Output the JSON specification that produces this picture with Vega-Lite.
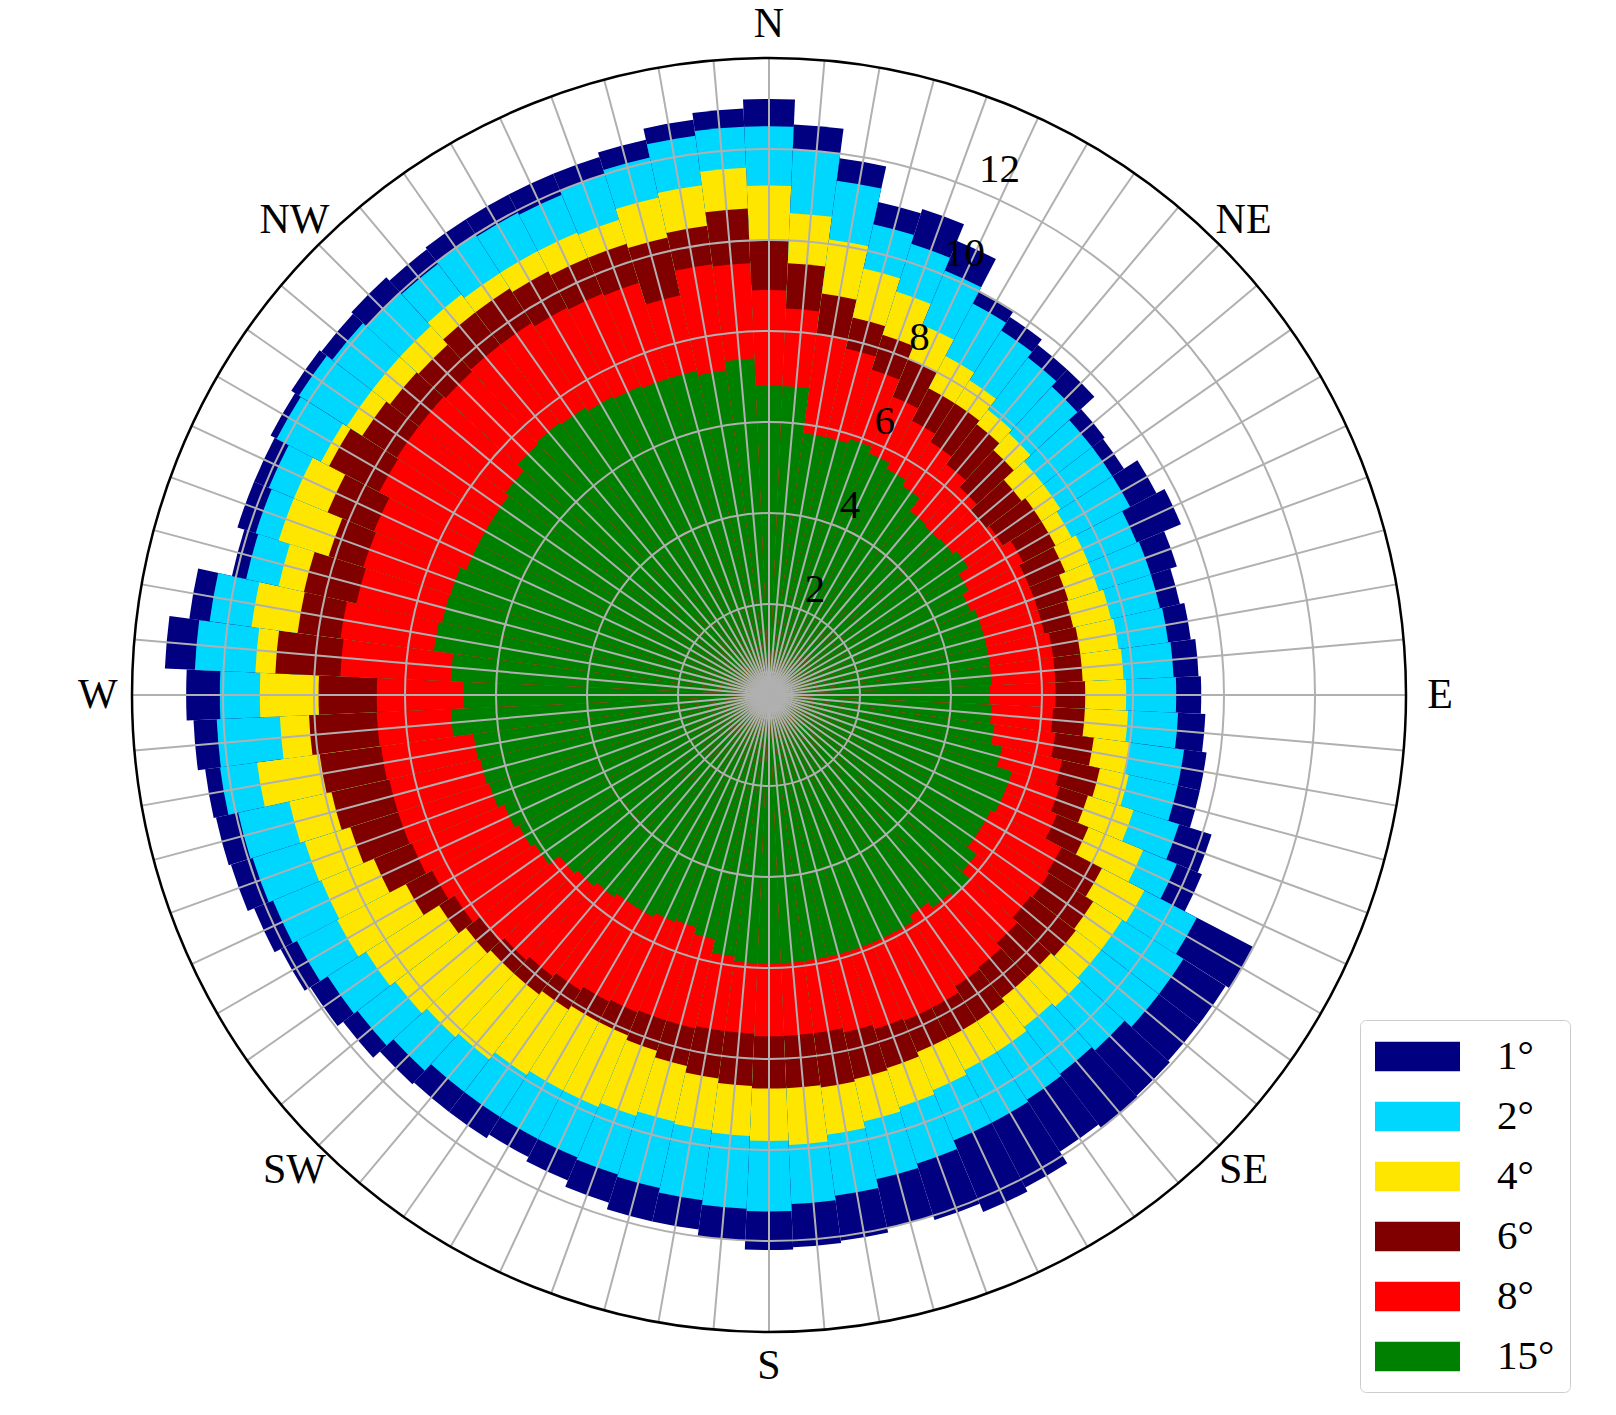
{
  "$schema": "https://vega.github.io/schema/vega-lite/v6.json",
  "width": 1538,
  "height": 1390,
  "autosize": "none",
  "padding": {"left": 0, "top": 0, "right": 78, "bottom": 25},
  "background": "white",
  "config": {"view": {"stroke": null}},
  "datasets": {
    "bins": [
      {"dir": 0, "d1": 13.1, "d2": 12.5, "d4": 11.2, "d6": 10.0, "d8": 8.9, "d15": 6.8},
      {"dir": 5, "d1": 12.55, "d2": 12.0, "d4": 10.6, "d6": 9.5, "d8": 8.5, "d15": 6.8},
      {"dir": 10, "d1": 11.9, "d2": 11.4, "d4": 10.1, "d6": 8.9, "d8": 8.0, "d15": 5.8},
      {"dir": 15, "d1": 11.1, "d2": 10.6, "d4": 9.6, "d6": 8.5, "d8": 7.8, "d15": 5.8},
      {"dir": 20, "d1": 11.2, "d2": 10.4, "d4": 9.3, "d6": 8.3, "d8": 7.5, "d15": 5.9},
      {"dir": 25, "d1": 10.8, "d2": 10.1, "d4": 8.8, "d6": 8.0, "d8": 7.1, "d15": 5.75},
      {"dir": 30, "d1": 10.0, "d2": 9.7, "d4": 8.4, "d6": 7.6, "d8": 6.8, "d15": 5.6},
      {"dir": 35, "d1": 9.85, "d2": 9.5, "d4": 8.2, "d6": 7.6, "d8": 6.6, "d15": 5.45},
      {"dir": 40, "d1": 9.7, "d2": 9.35, "d4": 7.9, "d6": 7.5, "d8": 6.4, "d15": 5.1},
      {"dir": 45, "d1": 9.7, "d2": 9.2, "d4": 7.8, "d6": 7.3, "d8": 6.2, "d15": 5.05},
      {"dir": 50, "d1": 9.3, "d2": 8.95, "d4": 7.6, "d6": 7.0, "d8": 6.0, "d15": 5.1},
      {"dir": 55, "d1": 9.25, "d2": 8.95, "d4": 7.6, "d6": 7.1, "d8": 6.1, "d15": 5.2},
      {"dir": 60, "d1": 9.6, "d2": 8.95, "d4": 7.5, "d6": 7.1, "d8": 6.3, "d15": 4.95},
      {"dir": 65, "d1": 9.8, "d2": 8.75, "d4": 7.6, "d6": 7.05, "d8": 6.2, "d15": 4.8},
      {"dir": 70, "d1": 9.4, "d2": 8.8, "d4": 7.6, "d6": 6.9, "d8": 6.2, "d15": 4.9},
      {"dir": 75, "d1": 9.25, "d2": 8.8, "d4": 7.7, "d6": 6.85, "d8": 6.2, "d15": 4.9},
      {"dir": 80, "d1": 9.35, "d2": 8.85, "d4": 7.75, "d6": 6.9, "d8": 6.3, "d15": 4.9},
      {"dir": 85, "d1": 9.45, "d2": 8.9, "d4": 7.8, "d6": 6.9, "d8": 6.3, "d15": 4.9},
      {"dir": 90, "d1": 9.5, "d2": 8.95, "d4": 7.85, "d6": 6.95, "d8": 6.3, "d15": 4.85},
      {"dir": 95, "d1": 9.6, "d2": 9.0, "d4": 7.9, "d6": 6.95, "d8": 6.25, "d15": 4.9},
      {"dir": 100, "d1": 9.7, "d2": 9.2, "d4": 8.0, "d6": 7.2, "d8": 6.35, "d15": 5.0},
      {"dir": 105, "d1": 9.7, "d2": 9.2, "d4": 8.1, "d6": 7.45, "d8": 6.6, "d15": 5.25},
      {"dir": 110, "d1": 10.2, "d2": 9.45, "d4": 8.4, "d6": 7.35, "d8": 6.7, "d15": 5.6},
      {"dir": 115, "d1": 10.3, "d2": 9.7, "d4": 8.9, "d6": 7.6, "d8": 6.85, "d15": 5.6},
      {"dir": 120, "d1": 12.0, "d2": 10.6, "d4": 9.3, "d6": 8.25, "d8": 7.25, "d15": 5.5},
      {"dir": 125, "d1": 11.9, "d2": 10.8, "d4": 9.2, "d6": 8.45, "d8": 7.3, "d15": 5.5},
      {"dir": 130, "d1": 11.9, "d2": 10.8, "d4": 9.2, "d6": 8.5, "d8": 7.25, "d15": 5.75},
      {"dir": 135, "d1": 11.95, "d2": 10.6, "d4": 9.3, "d6": 8.4, "d8": 7.4, "d15": 6.0},
      {"dir": 140, "d1": 12.0, "d2": 10.5, "d4": 9.2, "d6": 8.4, "d8": 7.55, "d15": 5.9},
      {"dir": 145, "d1": 11.9, "d2": 10.55, "d4": 9.3, "d6": 8.5, "d8": 7.6, "d15": 5.75},
      {"dir": 150, "d1": 12.2, "d2": 10.6, "d4": 9.3, "d6": 8.5, "d8": 7.75, "d15": 5.9},
      {"dir": 155, "d1": 12.3, "d2": 10.6, "d4": 9.4, "d6": 8.5, "d8": 7.75, "d15": 5.9},
      {"dir": 160, "d1": 12.1, "d2": 10.8, "d4": 9.5, "d6": 8.6, "d8": 7.7, "d15": 5.9},
      {"dir": 165, "d1": 12.0, "d2": 10.9, "d4": 9.6, "d6": 8.65, "d8": 7.6, "d15": 5.9},
      {"dir": 170, "d1": 12.1, "d2": 11.1, "d4": 9.75, "d6": 8.7, "d8": 7.5, "d15": 5.9},
      {"dir": 175, "d1": 12.15, "d2": 11.2, "d4": 9.9, "d6": 8.65, "d8": 7.5, "d15": 5.9},
      {"dir": 180, "d1": 12.2, "d2": 11.35, "d4": 9.8, "d6": 8.65, "d8": 7.5, "d15": 5.9},
      {"dir": 185, "d1": 12.0, "d2": 11.3, "d4": 9.7, "d6": 8.6, "d8": 7.45, "d15": 5.9},
      {"dir": 190, "d1": 11.85, "d2": 11.2, "d4": 9.65, "d6": 8.5, "d8": 7.45, "d15": 5.8},
      {"dir": 195, "d1": 11.85, "d2": 11.1, "d4": 9.6, "d6": 8.35, "d8": 7.5, "d15": 5.5},
      {"dir": 200, "d1": 11.7, "d2": 11.05, "d4": 9.7, "d6": 8.2, "d8": 7.5, "d15": 5.35},
      {"dir": 205, "d1": 11.55, "d2": 11.0, "d4": 9.8, "d6": 8.1, "d8": 7.55, "d15": 5.4},
      {"dir": 210, "d1": 11.45, "d2": 11.0, "d4": 9.8, "d6": 8.1, "d8": 7.6, "d15": 5.5},
      {"dir": 215, "d1": 11.55, "d2": 11.0, "d4": 9.9, "d6": 8.2, "d8": 7.7, "d15": 5.5},
      {"dir": 220, "d1": 11.55, "d2": 11.0, "d4": 10.1, "d6": 8.3, "d8": 7.8, "d15": 5.6},
      {"dir": 225, "d1": 11.6, "d2": 11.2, "d4": 10.2, "d6": 8.3, "d8": 7.9, "d15": 5.7},
      {"dir": 230, "d1": 11.8, "d2": 11.4, "d4": 10.35, "d6": 8.4, "d8": 8.0, "d15": 5.8},
      {"dir": 235, "d1": 11.95, "d2": 11.5, "d4": 10.5, "d6": 8.6, "d8": 8.2, "d15": 6.1},
      {"dir": 240, "d1": 12.1, "d2": 11.7, "d4": 10.7, "d6": 9.0, "d8": 8.35, "d15": 6.2},
      {"dir": 245, "d1": 12.25, "d2": 11.8, "d4": 10.65, "d6": 9.4, "d8": 8.5, "d15": 6.3},
      {"dir": 250, "d1": 12.4, "d2": 11.9, "d4": 10.7, "d6": 9.65, "d8": 8.55, "d15": 6.45},
      {"dir": 255, "d1": 12.45, "d2": 11.95, "d4": 10.8, "d6": 9.85, "d8": 8.55, "d15": 6.5},
      {"dir": 260, "d1": 12.5, "d2": 12.17, "d4": 11.35, "d6": 9.96, "d8": 8.6, "d15": 6.55},
      {"dir": 265, "d1": 12.66, "d2": 12.15, "d4": 10.76, "d6": 10.12, "d8": 8.63, "d15": 7.0},
      {"dir": 270, "d1": 12.81, "d2": 12.07, "d4": 11.19, "d6": 9.9, "d8": 8.62, "d15": 6.72},
      {"dir": 275, "d1": 13.29, "d2": 12.63, "d4": 11.3, "d6": 10.86, "d8": 9.43, "d15": 7.0},
      {"dir": 280, "d1": 12.85, "d2": 12.4, "d4": 11.47, "d6": 10.45, "d8": 9.5, "d15": 7.43},
      {"dir": 285, "d1": 12.09, "d2": 11.77, "d4": 11.04, "d6": 10.47, "d8": 9.29, "d15": 7.36},
      {"dir": 290, "d1": 12.25, "d2": 11.83, "d4": 11.3, "d6": 10.15, "d8": 9.35, "d15": 7.34},
      {"dir": 295, "d1": 12.25, "d2": 11.9, "d4": 11.3, "d6": 10.5, "d8": 9.4, "d15": 7.2},
      {"dir": 300, "d1": 12.35, "d2": 12.2, "d4": 11.1, "d6": 10.9, "d8": 9.66, "d15": 7.2},
      {"dir": 305, "d1": 12.45, "d2": 12.25, "d4": 11.0, "d6": 10.6, "d8": 9.7, "d15": 7.2},
      {"dir": 310, "d1": 12.4, "d2": 12.1, "d4": 11.0, "d6": 10.5, "d8": 9.7, "d15": 7.3},
      {"dir": 315, "d1": 12.45, "d2": 12.0, "d4": 11.0, "d6": 10.45, "d8": 9.65, "d15": 7.5},
      {"dir": 320, "d1": 12.35, "d2": 11.95, "d4": 11.1, "d6": 10.6, "d8": 9.7, "d15": 7.55},
      {"dir": 325, "d1": 12.4, "d2": 12.0, "d4": 11.0, "d6": 10.6, "d8": 9.7, "d15": 7.5},
      {"dir": 330, "d1": 12.4, "d2": 11.95, "d4": 11.0, "d6": 10.5, "d8": 9.6, "d15": 7.4},
      {"dir": 335, "d1": 12.4, "d2": 11.9, "d4": 11.0, "d6": 10.4, "d8": 9.55, "d15": 7.35},
      {"dir": 340, "d1": 12.4, "d2": 12.0, "d4": 10.95, "d6": 10.4, "d8": 9.5, "d15": 7.3},
      {"dir": 345, "d1": 12.5, "d2": 12.1, "d4": 11.2, "d6": 10.3, "d8": 9.0, "d15": 7.3},
      {"dir": 350, "d1": 12.75, "d2": 12.4, "d4": 11.3, "d6": 10.4, "d8": 9.55, "d15": 7.2},
      {"dir": 355, "d1": 12.9, "d2": 12.5, "d4": 11.6, "d6": 10.7, "d8": 9.5, "d15": 7.4}
    ],
    "rings": [{"r": 2}, {"r": 4}, {"r": 6}, {"r": 8}, {"r": 10}, {"r": 12}],
    "edge": [{"r": 14}],
    "compass": [
      {"dir": 0, "label": "N"}, {"dir": 45, "label": "NE"}, {"dir": 90, "label": "E"},
      {"dir": 135, "label": "SE"}, {"dir": 180, "label": "S"}, {"dir": 225, "label": "SW"},
      {"dir": 270, "label": "W"}, {"dir": 315, "label": "NW"}
    ]
  },
  "layer": [
    {
      "data": {"name": "bins"},
      "transform": [{"fold": ["d1", "d2", "d4", "d6", "d8", "d15"], "as": ["series", "r"]}],
      "mark": {"type": "arc", "thetaOffset": -0.0436332, "theta2Offset": 0.0436332},
      "encoding": {
        "theta": {"field": "dir", "type": "quantitative", "stack": null,
          "scale": {"type": "linear", "domain": [0, 360], "range": [0, 6.283185307179586]}},
        "theta2": {"field": "dir"},
        "radius": {"field": "r", "type": "quantitative", "stack": null,
          "scale": {"type": "linear", "domain": [0, 14], "range": [0, 637], "zero": true, "nice": false}},
        "color": {
          "field": "series", "type": "nominal",
          "scale": {"domain": ["d1", "d2", "d4", "d6", "d8", "d15"],
            "range": ["#000080", "#00D7FF", "#FFE600", "#800000", "#FF0000", "#008000"]},
          "legend": {
            "title": null, "orient": "none", "legendX": 1360, "legendY": 1020,
            "symbolType": "M-2,-0.7L2,-0.7L2,0.7L-2,0.7Z", "symbolSize": 1806,
            "symbolStrokeWidth": 0, "symbolOpacity": 1, "symbolOffset": 21,
            "labelOffset": 58, "labelFont": "Liberation Serif", "labelFontSize": 41,
            "labelColor": "#000000", "labelLimit": 300,
            "labelExpr": "replace(datum.label, 'd', '') + '°'",
            "rowPadding": 18, "padding": 15, "strokeColor": "#cccccc",
            "fillColor": "#ffffff", "cornerRadius": 6
          }
        }
      }
    },
    {
      "data": {"name": "bins"},
      "mark": {"type": "arc", "filled": false, "stroke": "#b0b0b0", "strokeWidth": 2},
      "encoding": {
        "theta": {"field": "dir", "type": "quantitative", "stack": null,
          "scale": {"type": "linear", "domain": [0, 360], "range": [0, 6.283185307179586]}},
        "theta2": {"field": "dir"},
        "radius": {"datum": 14, "type": "quantitative", "stack": null,
          "scale": {"type": "linear", "domain": [0, 14], "range": [0, 637], "zero": true, "nice": false}}
      }
    },
    {
      "data": {"name": "rings"},
      "mark": {"type": "arc", "filled": false, "stroke": "#b0b0b0", "strokeWidth": 2, "theta": 0, "theta2": 6.283185307179586},
      "encoding": {
        "radius": {"field": "r", "type": "quantitative", "stack": null,
          "scale": {"type": "linear", "domain": [0, 14], "range": [0, 637], "zero": true, "nice": false}}
      }
    },
    {
      "data": {"name": "edge"},
      "mark": {"type": "arc", "filled": false, "stroke": "#000000", "strokeWidth": 2.5, "theta": 0, "theta2": 6.283185307179586},
      "encoding": {
        "radius": {"field": "r", "type": "quantitative", "stack": null,
          "scale": {"type": "linear", "domain": [0, 14], "range": [0, 637], "zero": true, "nice": false}}
      }
    },
    {
      "data": {"name": "rings"},
      "mark": {"type": "text", "font": "Liberation Serif", "fontSize": 41, "align": "left", "baseline": "bottom", "dx": 1, "color": "#000000", "theta": 0.39269908},
      "encoding": {
        "radius": {"field": "r", "type": "quantitative", "stack": null,
          "scale": {"type": "linear", "domain": [0, 14], "range": [0, 637], "zero": true, "nice": false}},
        "text": {"field": "r", "type": "quantitative"}
      }
    },
    {
      "data": {"name": "compass"},
      "mark": {"type": "text", "font": "Liberation Serif", "fontSize": 42, "align": "center", "baseline": "middle", "color": "#000000"},
      "encoding": {
        "theta": {"field": "dir", "type": "quantitative", "stack": null,
          "scale": {"type": "linear", "domain": [0, 360], "range": [0, 6.283185307179586]}},
        "radius": {"datum": 14.75, "type": "quantitative", "stack": null,
          "scale": {"type": "linear", "domain": [0, 14], "range": [0, 637], "zero": true, "nice": false}},
        "text": {"field": "label", "type": "nominal"}
      }
    }
  ]
}
